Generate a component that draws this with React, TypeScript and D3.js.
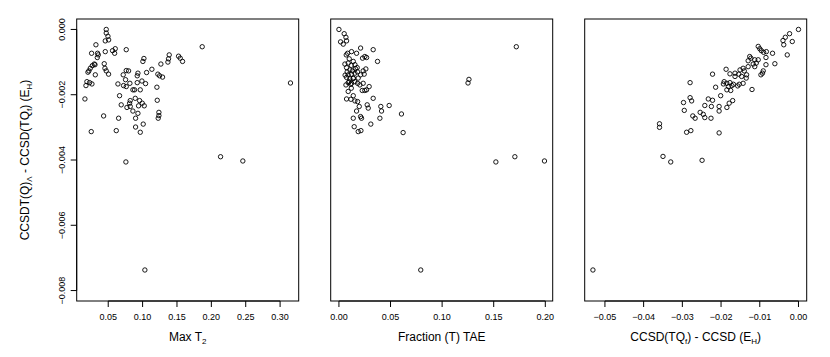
import React from 'react';
import * as d3 from 'd3';

// Max T2 vs energy difference (values in Hartree)
const maxT2Points: [number, number][] = [
  [0.0471, 0.0], [0.0471, -0.00011], [0.0496, -0.00021], [0.0457, -0.00035], [0.0506, -0.00032],
  [0.0321, -0.00047], [0.0258, -0.00073], [0.0345, -0.00073], [0.0355, -0.00078], [0.0341, -0.00086],
  [0.0457, -0.00068], [0.0563, -0.00065], [0.0602, -0.00059], [0.0593, -0.00073], [0.0762, -0.00062],
  [0.1867, -0.00053], [0.0297, -0.00106], [0.0268, -0.00111], [0.0239, -0.00119], [0.0219, -0.00127],
  [0.0205, -0.00131], [0.0307, -0.00108], [0.0442, -0.00105], [0.0452, -0.00119], [0.0471, -0.00127],
  [0.0505, -0.00137], [0.0312, -0.00139], [0.1019, -0.00089], [0.1004, -0.00098], [0.1135, -0.00122],
  [0.1266, -0.00106], [0.1387, -0.00078], [0.1377, -0.0009], [0.1368, -0.001], [0.1523, -0.00082],
  [0.1547, -0.00088], [0.1581, -0.00098], [0.0762, -0.00126], [0.0796, -0.00127], [0.0718, -0.00139],
  [0.0932, -0.00134], [0.0922, -0.00142], [0.1058, -0.00132], [0.1222, -0.00137], [0.1247, -0.00142],
  [0.129, -0.00146], [0.019, -0.0016], [0.0229, -0.00163], [0.0263, -0.00167], [0.0176, -0.00172],
  [0.0752, -0.00154], [0.0641, -0.00167], [0.0723, -0.00172], [0.0815, -0.00165], [0.0762, -0.00175],
  [0.0922, -0.00163], [0.099, -0.00158], [0.1043, -0.00166], [0.0859, -0.00185], [0.0883, -0.00185],
  [0.0966, -0.00185], [0.1208, -0.00177], [0.0161, -0.00213], [0.0665, -0.00203], [0.082, -0.00218],
  [0.0811, -0.00226], [0.0893, -0.00211], [0.0956, -0.00218], [0.0995, -0.00226], [0.0689, -0.00231],
  [0.0772, -0.00239], [0.082, -0.00236], [0.0859, -0.0025], [0.0941, -0.00234], [0.1024, -0.00234],
  [0.1213, -0.00217], [0.0932, -0.00257], [0.1237, -0.00254], [0.1237, -0.00264], [0.1227, -0.00272],
  [0.0433, -0.00265], [0.0651, -0.00272], [0.0898, -0.00272], [0.1009, -0.0029], [0.0898, -0.00299],
  [0.0253, -0.00313], [0.0617, -0.0031], [0.0966, -0.00315], [0.3151, -0.00164], [0.2134, -0.0039],
  [0.2458, -0.00403], [0.0757, -0.00406], [0.1033, -0.00737],
];

// Fraction (T) of the TAE vs energy difference
const fractionPoints: [number, number][] = [
  [0.0, 0.0], [0.0051, -0.00013], [0.0068, -0.00024], [0.0016, -0.00038], [0.0074, -0.00035],
  [0.0042, -0.00045], [0.0084, -0.00073], [0.0071, -0.00078], [0.0122, -0.00068], [0.0171, -0.00073],
  [0.021, -0.00057], [0.0229, -0.00088], [0.0251, -0.00083], [0.0268, -0.00086], [0.0332, -0.00062],
  [0.0374, -0.00098], [0.0058, -0.00106], [0.009, -0.00103], [0.0139, -0.00098], [0.0155, -0.00108],
  [0.0074, -0.00117], [0.0106, -0.00124], [0.0132, -0.00127], [0.0177, -0.00117], [0.0235, -0.00127],
  [0.0261, -0.00121], [0.009, -0.00139], [0.0122, -0.00137], [0.0155, -0.00134], [0.021, -0.00139],
  [0.0245, -0.00137], [0.0074, -0.00147], [0.0106, -0.00151], [0.0139, -0.00149], [0.0187, -0.00149],
  [0.009, -0.00163], [0.0122, -0.00165], [0.0155, -0.0016], [0.0068, -0.0017], [0.0113, -0.00168],
  [0.0181, -0.00165], [0.0203, -0.0017], [0.0235, -0.00165], [0.0293, -0.00175], [0.0268, -0.00185],
  [0.0226, -0.00187], [0.0251, -0.00187], [0.0332, -0.00211], [0.0074, -0.00213], [0.0116, -0.00214],
  [0.0139, -0.00203], [0.0155, -0.00219], [0.0181, -0.00221], [0.0171, -0.0025], [0.0197, -0.00236],
  [0.0274, -0.00231], [0.0284, -0.00241], [0.0406, -0.00236], [0.0413, -0.0025], [0.0487, -0.00233],
  [0.0606, -0.00259], [0.0139, -0.00272], [0.021, -0.00267], [0.0219, -0.00272], [0.0397, -0.00272],
  [0.0148, -0.00298], [0.0187, -0.00313], [0.0213, -0.0031], [0.0309, -0.0029], [0.0622, -0.00316],
  [0.01, -0.0009], [0.012, -0.0011], [0.008, -0.0013], [0.014, -0.0015], [0.01, -0.0016],
  [0.016, -0.0012], [0.006, -0.0014], [0.012, -0.0018], [0.018, -0.0013], [0.009, -0.0019],
  [0.1719, -0.00053], [0.126, -0.00153], [0.1251, -0.00164], [0.1521, -0.00406], [0.1705, -0.0039],
  [0.1992, -0.00403], [0.0793, -0.00737],
];

// CCSD(TQf) - CCSD vs energy difference
const ccsdPoints: [number, number][] = [
  [0.0, 0.0], [-0.0023, -0.00013], [-0.0034, -0.00024], [-0.004, -0.00034], [-0.0016, -0.00037],
  [-0.0038, -0.00047], [-0.0104, -0.00052], [-0.01, -0.00059], [-0.0096, -0.00065], [-0.009, -0.0007],
  [-0.0083, -0.00068], [-0.0067, -0.00073], [-0.0029, -0.00078], [-0.0126, -0.00083], [-0.0123, -0.00088],
  [-0.0113, -0.00093], [-0.0104, -0.00093], [-0.0084, -0.00086], [-0.013, -0.00096], [-0.0061, -0.00105],
  [-0.0084, -0.00108], [-0.0109, -0.00103], [-0.0117, -0.00106], [-0.013, -0.00114], [-0.0143, -0.00119],
  [-0.0151, -0.00124], [-0.014, -0.00127], [-0.0113, -0.00114], [-0.0091, -0.00127], [-0.0093, -0.00134],
  [-0.0097, -0.00139], [-0.0187, -0.00122], [-0.0222, -0.00137], [-0.0177, -0.00136], [-0.0164, -0.00134],
  [-0.0154, -0.00137], [-0.0134, -0.00139], [-0.0164, -0.00144], [-0.0147, -0.00144], [-0.0135, -0.00149],
  [-0.028, -0.00163], [-0.0192, -0.0016], [-0.0194, -0.00167], [-0.0185, -0.00165], [-0.0177, -0.00163],
  [-0.0168, -0.00168], [-0.0153, -0.00168], [-0.0143, -0.00165], [-0.0181, -0.00175], [-0.0172, -0.00172],
  [-0.0157, -0.00173], [-0.0214, -0.00177], [-0.0185, -0.00185], [-0.0175, -0.00187], [-0.012, -0.00184],
  [-0.0201, -0.00203], [-0.028, -0.00209], [-0.0276, -0.00219], [-0.0297, -0.00224], [-0.0233, -0.00213],
  [-0.0222, -0.00217], [-0.017, -0.00218], [-0.0179, -0.00226], [-0.0242, -0.00233], [-0.0225, -0.00236],
  [-0.0205, -0.00236], [-0.0185, -0.00239], [-0.0295, -0.00248], [-0.0254, -0.00254], [-0.0246, -0.0026],
  [-0.0273, -0.00265], [-0.0267, -0.00272], [-0.0242, -0.0027], [-0.0226, -0.00272], [-0.0205, -0.0025],
  [-0.0359, -0.00289], [-0.0359, -0.003], [-0.0289, -0.00315], [-0.0278, -0.0031], [-0.0205, -0.00317],
  [-0.035, -0.00389], [-0.033, -0.00406], [-0.0249, -0.00401], [-0.0531, -0.00737],
];

const yLimits = [-0.008, 0];
const yTicks = [0, -0.002, -0.004, -0.006, -0.008];
const maxT2Ticks = [0.05, 0.1, 0.15, 0.2, 0.25, 0.3];
const fractionTicks = [0, 0.05, 0.1, 0.15, 0.2];
const ccsdTicks = [-0.05, -0.04, -0.03, -0.02, -0.01, 0];

const W = 830, H = 357;
const top = 19, bottom = 301, panelW = 222;
const panelLefts = [76.7, 330.7, 584.7];
const font = "'Liberation Sans', Arial, Helvetica, sans-serif";

// R-style axis range: extend by 4% on both sides
function rExtend(lo: number, hi: number): [number, number] {
  const d = (hi - lo) * 0.04;
  return [lo - d, hi + d];
}

const fmt = (digits: number) => (v: number) => {
  const s = Math.abs(v).toFixed(digits);
  return v < -1e-12 ? '\u2212' + s : s;
};

const y = d3.scaleLinear().domain(rExtend(yLimits[0], yLimits[1])).range([bottom, top]);

function Panel({ left, points, ticks, digits, title, showY }: {
  left: number; points: [number, number][]; ticks: number[]; digits: number;
  title: React.ReactNode; showY?: boolean;
}) {
  const ext = d3.extent(points, d => d[0]) as [number, number];
  const x = d3.scaleLinear().domain(rExtend(ext[0], ext[1])).range([left, left + panelW]);
  const f = fmt(digits);
  return (
    <g>
      <rect x={left} y={top} width={panelW} height={bottom - top} fill="none" stroke="#000" strokeWidth={1} />
      <line x1={x(ticks[0])} x2={x(ticks[ticks.length - 1])} y1={bottom} y2={bottom} stroke="#000" />
      {ticks.map(t => (
        <g key={t}>
          <line x1={x(t)} x2={x(t)} y1={bottom} y2={bottom + 6} stroke="#000" />
          <text x={x(t)} y={320} fontSize={9} textAnchor="middle" fill="#000">{f(t)}</text>
        </g>
      ))}
      <text x={left + panelW / 2} y={341} fontSize={12} textAnchor="middle" fill="#000">{title}</text>
      {showY && (
        <g>
          <line x1={left} x2={left} y1={y(yTicks[0])} y2={y(yTicks[yTicks.length - 1])} stroke="#000" />
          {yTicks.map(t => (
            <g key={t}>
              <line x1={left - 6} x2={left} y1={y(t)} y2={y(t)} stroke="#000" />
              <text transform={`translate(65,${y(t)}) rotate(-90)`} fontSize={9} textAnchor="middle" fill="#000">
                {fmt(3)(t)}
              </text>
            </g>
          ))}
        </g>
      )}
      {points.map((d, i) => (
        <circle key={i} cx={x(d[0])} cy={y(d[1])} r={2.2} fill="none" stroke="#000" strokeWidth={0.9} />
      ))}
    </g>
  );
}

export default function App() {
  const sub = (s: string) => <tspan fontSize={8} dy={3}>{s}</tspan>;
  const back = (s: string) => <tspan dy={-3}>{s}</tspan>;
  return (
    <svg width={W} height={H} style={{ position: 'absolute', left: 0, top: 0, background: '#fff' }}
      fontFamily={font}>
      <rect width={W} height={H} fill="#fff" />
      <Panel left={panelLefts[0]} points={maxT2Points} ticks={maxT2Ticks} digits={2} showY
        title={<>Max T{sub('2')}</>} />
      <Panel left={panelLefts[1]} points={fractionPoints} ticks={fractionTicks} digits={2}
        title={<>Fraction (T) TAE</>} />
      <Panel left={panelLefts[2]} points={ccsdPoints} ticks={ccsdTicks} digits={2}
        title={<>CCSD(TQ{sub('f')}{back(') - CCSD (E')}{sub('H')}{back(')')}</>} />
      <text transform={`translate(29,${(top + bottom) / 2}) rotate(-90)`} fontSize={12} textAnchor="middle" fill="#000">
        CCSDT(Q){sub('\u039B')}{back(' - CCSD(TQ')}{sub('f')}{back(') (E')}{sub('H')}{back(')')}
      </text>
    </svg>
  );
}
